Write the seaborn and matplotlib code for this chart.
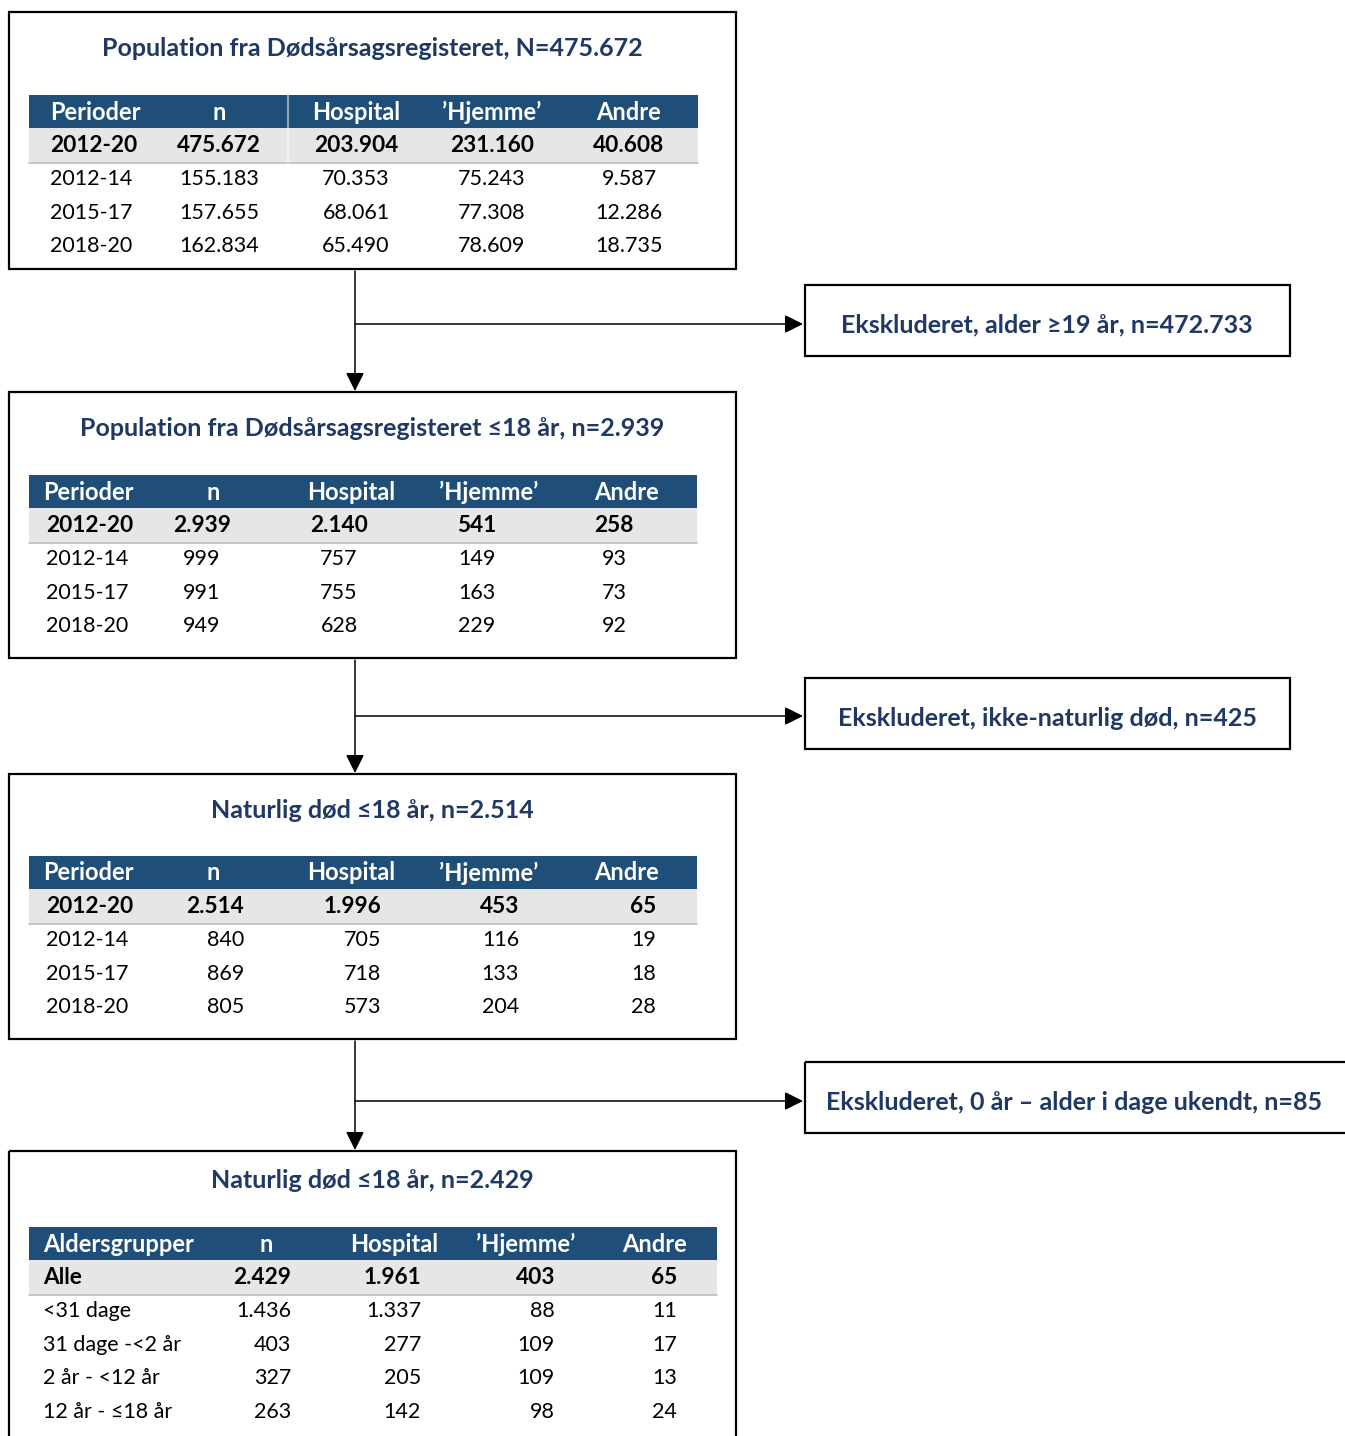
import matplotlib
matplotlib.use("Agg")
import matplotlib.pyplot as plt
import matplotlib.patches as mpatches
import seaborn as sns

# ---------------- data ----------------
period_labels = ["2012-20", "2012-14", "2015-17", "2018-20"]
period_header = ["Perioder", "n", "Hospital", "\u2019Hjemme\u2019", "Andre"]

t1_title = "Population fra Dødsårsagsregisteret, N=475.672"
t1_n = [475672, 155183, 157655, 162834]
t1_hospital = [203904, 70353, 68061, 65490]
t1_hjemme = [231160, 75243, 77308, 78609]
t1_andre = [40608, 9587, 12286, 18735]

t2_title = "Population fra Dødsårsagsregisteret ≤18 år, n=2.939"
t2_n = [2939, 999, 991, 949]
t2_hospital = [2140, 757, 755, 628]
t2_hjemme = [541, 149, 163, 229]
t2_andre = [258, 93, 73, 92]

t3_title = "Naturlig død ≤18 år, n=2.514"
t3_n = [2514, 840, 869, 805]
t3_hospital = [1996, 705, 718, 573]
t3_hjemme = [453, 116, 133, 204]
t3_andre = [65, 19, 18, 28]

t4_title = "Naturlig død ≤18 år, n=2.429"
age_header = ["Aldersgrupper", "n", "Hospital", "\u2019Hjemme\u2019", "Andre"]
age_labels = ["Alle", "<31 dage", "31 dage -<2 år", "2 år - <12 år", "12 år - ≤18 år"]
t4_n = [2429, 1436, 403, 327, 263]
t4_hospital = [1961, 1337, 277, 205, 142]
t4_hjemme = [403, 88, 109, 109, 98]
t4_andre = [65, 11, 17, 13, 24]

excl_labels = [
    "Ekskluderet, alder ≥19 år, n=472.733",
    "Ekskluderet, ikke-naturlig død, n=425",
    "Ekskluderet, 0 år \u2013 alder i dage ukendt, n=85",
]

# ---------------- style ----------------
sns.set_theme(style="white")
FONT = ["Lato", "DejaVu Sans"]
plt.rcParams["font.family"] = FONT
NAVY = "#1F3864"
HEADER = "#1F4E79"
GRAY = "#E7E6E6"
FS = 15.5
FS_HEAD = 17
FS_TITLE = 18


def fmt(v):
    return format(v, ",").replace(",", ".")


fig = plt.figure(figsize=(13.45, 14.36), dpi=100)
ax = fig.add_axes([0, 0, 1, 1])
ax.set_xlim(0, 1345)
ax.set_ylim(1436, 0)
ax.axis("off")


def box(x0, x1, y0, y1, lw=1.6):
    ax.add_patch(mpatches.Rectangle((x0, y0), x1 - x0, y1 - y0, fill=False,
                                    edgecolor="black", lw=lw, zorder=3))


def table(x0, x1, top, header, labels, cols, head_pos, val_pos, sep=None):
    rh = 33.6
    ax.add_patch(mpatches.Rectangle((x0, top), x1 - x0, 33, color=HEADER, lw=0, zorder=1))
    ax.add_patch(mpatches.Rectangle((x0, top + 33), x1 - x0, 34.5, color=GRAY, lw=0, zorder=1))
    ax.plot([x0, x1], [top + 67.5, top + 67.5], color="#BDBDBD", lw=1.2, zorder=2)
    if sep is not None:
        ax.plot([sep, sep], [top, top + 67], color="white", lw=1.2, zorder=2, alpha=0.6)
    for (x, ha), h in zip(head_pos, header):
        ax.text(x, top + 17, h, ha=ha, va="center", color="white",
                fontsize=FS_HEAD, fontweight="bold", zorder=4)
    for i, lab in enumerate(labels):
        y = top + 17 + (i + 1) * rh
        w = "bold" if i == 0 else "normal"
        fs = FS + 0.8 if i == 0 else FS
        row = [lab] + [fmt(c[i]) for c in cols]
        for (x, ha), s in zip(val_pos, row):
            ax.text(x, y, s, ha=ha, va="center", color="black",
                    fontsize=fs, fontweight=w, zorder=4)


def title(y, s):
    ax.text(372, y + 1, s, ha="center", va="center", color=NAVY,
            fontsize=FS_TITLE, fontweight="bold", zorder=4)


def arrow(x0, y0, x1, y1):
    ax.annotate("", xy=(x1, y1), xytext=(x0, y0),
                arrowprops=dict(arrowstyle="-|>,head_length=0.8,head_width=0.4",
                                mutation_scale=14, lw=1.1, color="black",
                                shrinkA=0, shrinkB=0), zorder=5)


# main boxes
box(9, 736, 12, 269)
box(9, 736, 392, 658)
box(9, 736, 774, 1039)
box(9, 736, 1151, 1460)

title(48, t1_title)
title(428, t2_title)
title(809, t3_title)
title(1179, t4_title)

table(29, 698, 95, period_header, period_labels,
      [t1_n, t1_hospital, t1_hjemme, t1_andre],
      [(50, "left"), (219, "center"), (356, "center"), (492, "center"), (629, "center")],
      [(50, "left"), (219, "center"), (356, "center"), (492, "center"), (629, "center")],
      sep=288)

table(29, 697, 475, period_header, period_labels,
      [t2_n, t2_hospital, t2_hjemme, t2_andre],
      [(43, "left"), (213, "center"), (351, "center"), (489, "center"), (626, "center")],
      [(46, "left"), (202, "center"), (339, "center"), (477, "center"), (614, "center")])

table(29, 697, 856, period_header, period_labels,
      [t3_n, t3_hospital, t3_hjemme, t3_andre],
      [(43, "left"), (213, "center"), (351, "center"), (489, "center"), (626, "center")],
      [(46, "left"), (244, "right"), (381, "right"), (519, "right"), (656, "right")])

table(29, 717, 1227, age_header, age_labels,
      [t4_n, t4_hospital, t4_hjemme, t4_andre],
      [(43, "left"), (266, "center"), (394, "center"), (526, "center"), (654, "center")],
      [(43, "left"), (291, "right"), (421, "right"), (555, "right"), (677, "right")])

# exclusion boxes
excl_boxes = [(805, 1290, 285, 356), (805, 1290, 678, 749), (805, 1360, 1062, 1133)]
for (x0, x1, y0, y1), lab in zip(excl_boxes, excl_labels):
    box(x0, x1, y0, y1)
for (x, y, ha), lab in zip([(1047, 325, "center"), (1047, 719, "center"), (826, 1103, "left")],
                           excl_labels):
    ax.text(x, y, lab, ha=ha, va="center", color=NAVY, fontsize=FS_TITLE,
            fontweight="bold", zorder=4)

# arrows
for (ytop, ybot, yh) in [(271, 391, 324), (660, 773, 716), (1041, 1150, 1101)]:
    ax.plot([355, 355], [ytop, ybot - 10], color="black", lw=1.1, zorder=4)
    arrow(355, ybot - 12, 355, ybot)
    arrow(355, yh, 803, yh)

fig.savefig("out.png", dpi=100, facecolor="white")
